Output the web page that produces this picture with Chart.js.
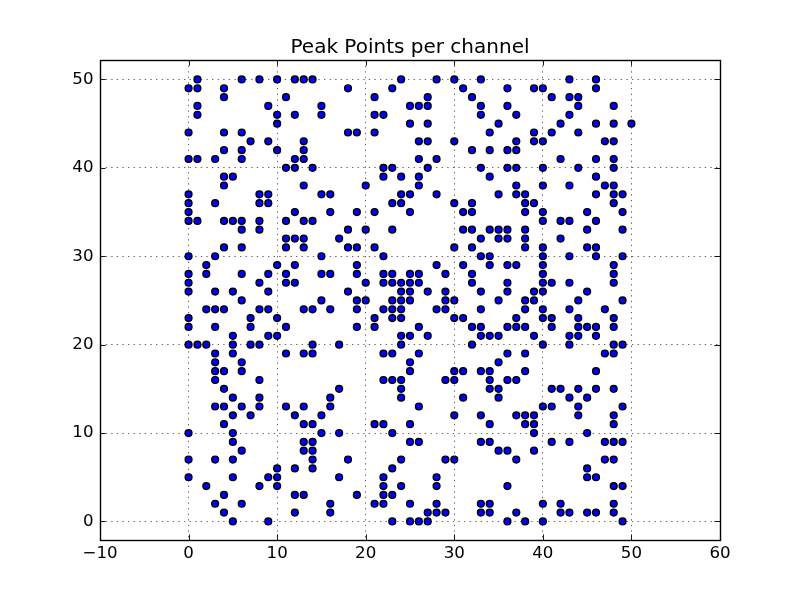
<!DOCTYPE html>
<html>
<head>
<meta charset="utf-8">
<style>html,body{margin:0;padding:0;background:#fff}canvas{display:block}</style>
<script src="https://cdn.jsdelivr.net/npm/chart.js@4"></script>
</head>
<body>
<canvas id="c" width="800" height="600"></canvas>
<script>
const titleText = "Peak Points per channel";
const xTickValues = [-10,0,10,20,30,40,50,60];
const yTickValues = [0,10,20,30,40,50];
const y50=[1,6,8,10,12,13,14,24,28,30,33,43,46];
const y49=[0,1,4,18,23,31,36,39,40,46];
const y48=[4,11,21,27,32,41,43,44];
const y47=[1,9,15,25,26,27,33,36,44,48];
const y46=[1,10,12,15,21,22,33,37,43];
const y45=[10,25,27,35,42,46,48,50];
const y44=[0,4,6,18,19,21,34,39,41,44];
const y43=[7,9,13,26,27,30,37,39,40,47,48];
const y42=[4,6,10,13,32,34,36,37];
const y41=[0,1,3,6,12,13,26,28,42,46,48];
const y40=[11,12,14,22,23,27,33,36,37,40,44,48];
const y39=[4,5,22,24,26,34,46];
const y38=[4,13,20,26,37,40,43,47,48];
const y37=[0,8,9,15,16,24,25,28,35,37,38,46,48,49];
const y36=[0,3,8,9,23,24,30,32,38,39,48];
const y35=[0,12,16,19,21,25,31,32,38,40,45,49];
const y34=[0,1,4,5,6,8,11,13,14,40,42,43,46];
const y33=[6,8,18,20,23,31,32,34,35,36,38,45,49];
const y32=[11,12,13,17,33,35,36,38,42];
const y31=[4,6,11,13,18,19,21,30,32,38,40,45,46];
const y30=[0,3,15,22,33,34,40,43,46,49];
const y29=[2,10,12,19,28,31,34,36,37,40,48];
const y28=[0,2,6,9,11,15,16,19,22,23,25,26,29,32,40,48];
const y27=[0,8,11,12,20,22,23,24,25,26,32,36,40,41,43,48];
const y26=[0,3,5,9,18,24,25,27,29,33,36,39,40,45];
const y25=[6,15,19,20,23,24,25,29,30,35,38,39,44,49];
const y24=[2,3,4,8,9,13,14,16,19,22,23,24,28,29,33,38,40,43,47];
const y23=[0,7,10,21,23,24,30,31,37,40,41,44,48];
const y22=[0,3,7,11,19,21,26,32,33,36,37,38,41,44,45,46,48];
const y21=[5,9,10,24,25,27,33,34,35,39,43,44,46];
const y20=[0,1,2,5,7,8,14,17,24,32,40,43,48,49];
const y19=[3,5,11,13,14,22,23,26,36,38,47,48];
const y18=[3,6,25,35];
const y17=[3,4,6,25,30,31,33,34,38,46];
const y16=[3,8,22,23,24,29,30,34,36,37];
const y15=[4,17,24,34,35,41,42,44,46,48];
const y14=[5,8,16,24,31,35,43,45];
const y13=[3,4,6,8,11,13,16,26,40,41,44,49];
const y12=[5,7,12,15,30,33,37,38,39,44,48];
const y11=[4,13,14,21,22,25,34,38,39,48];
const y10=[0,5,15,17,23,39,45];
const y9=[5,13,14,25,26,33,34,41,43,47,48,49];
const y8=[6,13,14,35,36,39];
const y7=[0,3,5,14,18,24,29,30,37,47,48];
const y6=[10,12,14,23,45];
const y5=[0,5,9,10,17,22,28,45,46];
const y4=[2,8,10,22,24,28,36,48,49];
const y3=[4,12,13,19,22,23];
const y2=[3,6,16,21,22,25,28,33,34,40,42,48];
const y1=[4,12,16,27,28,29,33,34,37,42,43,45,46,48];
const y0=[5,9,23,25,26,27,36,38,40,49];
const rows=[y0,y1,y2,y3,y4,y5,y6,y7,y8,y9,y10,y11,y12,y13,y14,y15,y16,y17,y18,y19,y20,y21,y22,y23,y24,y25,y26,y27,y28,y29,y30,y31,y32,y33,y34,y35,y36,y37,y38,y39,y40,y41,y42,y43,y44,y45,y46,y47,y48,y49,y50];

const points=[];
rows.forEach((xs,y)=>xs.forEach(x=>points.push({x,y})));

const FONT="'DejaVu Sans'";
const frame={
  id:'frame',
  afterDraw(chart){
    const {ctx,chartArea:a,scales:{x,y}}=chart;
    const L=5.6;
    ctx.save();
    ctx.strokeStyle='#000';
    ctx.lineWidth=0.9;
    ctx.beginPath();
    xTickValues.forEach(v=>{
      const p=Math.round(x.getPixelForValue(v))+0.5;
      ctx.moveTo(p,a.bottom);ctx.lineTo(p,a.bottom-L);
      ctx.moveTo(p,a.top);ctx.lineTo(p,a.top+L);
    });
    yTickValues.forEach(v=>{
      const p=Math.round(y.getPixelForValue(v))+0.5;
      ctx.moveTo(a.left,p);ctx.lineTo(a.left+L,p);
      ctx.moveTo(a.right,p);ctx.lineTo(a.right-L,p);
    });
    ctx.stroke();
    ctx.lineWidth=1.4;
    ctx.strokeRect(a.left+0.5,a.top+0.5,a.right-a.left,a.bottom-a.top);
    ctx.restore();
  }
};
const gridOpts={color:'rgba(0,0,0,0.85)',lineWidth:0.7,z:1,drawTicks:false};
const tickFont={family:FONT,size:16.67};
const fmt=v=>String(v).replace('-','\u2212');

new Chart(document.getElementById('c'),{
  type:'scatter',
  data:{datasets:[{
    data:points,
    backgroundColor:'#0000ff',
    borderColor:'#000',
    borderWidth:1.4,
    pointRadius:3.4,
    pointHoverRadius:3.4
  }]},
  plugins:[frame],
  options:{
    responsive:false,
    animation:false,
    layout:{padding:{left:0,right:80,top:0,bottom:0}},
    plugins:{
      legend:{display:false},
      tooltip:{enabled:false},
      title:{
        display:true,text:titleText,fullSize:false,color:'#000',
        font:{family:FONT,size:20,weight:'normal',lineHeight:1.2},
        padding:{top:36,bottom:0}
      }
    },
    scales:{
      x:{
        type:'linear',min:-10,max:60,
        afterBuildTicks(s){s.ticks=xTickValues.map(value=>({value}));},
        afterFit(s){s.height=60;},
        grid:{...gridOpts},
        border:{display:false,dash:[1.4,4.2]},
        ticks:{color:'#000',font:tickFont,padding:4,maxRotation:0,autoSkip:false,callback:fmt}
      },
      y:{
        type:'linear',min:-2.1,max:52.2,
        afterBuildTicks(s){s.ticks=yTickValues.map(value=>({value}));},
        afterFit(s){s.width=100;},
        grid:{...gridOpts},
        border:{display:false,dash:[1.4,4.2]},
        ticks:{color:'#000',font:tickFont,padding:6.5,autoSkip:false,callback:fmt}
      }
    }
  }
});
</script>
</body>
</html>
